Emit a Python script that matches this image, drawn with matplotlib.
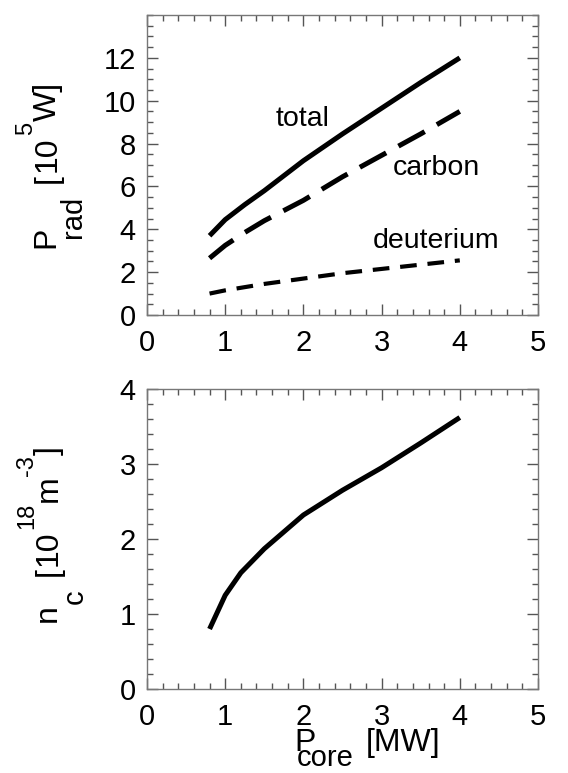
import matplotlib
matplotlib.use("Agg")
import matplotlib.pyplot as plt
from matplotlib.ticker import MultipleLocator

plt.rcParams['font.family'] = ['Liberation Sans', 'DejaVu Sans']

# ---- data ----
p_core = [0.8, 1.0, 1.25, 1.5, 2.0, 2.5, 3.0, 3.5, 4.0]
p_total = [3.7, 4.45, 5.15, 5.8, 7.2, 8.45, 9.65, 10.85, 12.0]
p_carbon = [2.65, 3.25, 3.85, 4.4, 5.35, 6.45, 7.45, 8.45, 9.5]
p_deut = [1.0, 1.15, 1.3, 1.45, 1.7, 1.95, 2.15, 2.35, 2.55]

p_core_n = [0.8, 1.0, 1.2, 1.5, 2.0, 2.5, 3.0, 3.5, 4.0]
n_c = [0.8, 1.25, 1.55, 1.87, 2.32, 2.65, 2.95, 3.28, 3.62]

x_ticks = [0, 1, 2, 3, 4, 5]
top_yticks = [0, 2, 4, 6, 8, 10, 12]
bot_yticks = [0, 1, 2, 3, 4]

W, H = 568, 773
fig = plt.figure(figsize=(W / 100, H / 100), dpi=100)

def axes_px(left, top, right, bottom):
    return fig.add_axes([left / W, 1 - bottom / H, (right - left) / W, (bottom - top) / H])

ax1 = axes_px(147, 15, 538, 315)
ax2 = axes_px(147, 389, 538, 689)

def style(ax, ymin, ymax, yticks, yminor):
    ax.set_xlim(0, 5)
    ax.set_ylim(ymin, ymax)
    ax.set_xticks(x_ticks)
    ax.set_yticks(yticks)
    ax.xaxis.set_minor_locator(MultipleLocator(0.2))
    ax.yaxis.set_minor_locator(MultipleLocator(yminor))
    ax.tick_params(which='both', direction='in', top=True, right=True,
                   color='#555555', width=1.0)
    ax.tick_params(which='major', length=8, labelsize=21)
    ax.tick_params(axis='y', which='major', pad=8)
    ax.tick_params(axis='x', which='major', pad=10)
    ax.tick_params(which='minor', length=4)
    for s in ax.spines.values():
        s.set_color('#777777')
        s.set_linewidth(1.0)

style(ax1, 0, 14, top_yticks, 0.5)
style(ax2, 0, 4, bot_yticks, 0.2)

ax1.plot(p_core, p_total, color='black', lw=3.6, solid_capstyle='butt')
ax1.plot(p_core, p_carbon, color='black', lw=3.6, dashes=(6, 2.8), dash_capstyle='butt')
ax1.plot(p_core, p_deut, color='black', lw=3.0, dashes=(4, 2.6), dash_capstyle='butt')

ax1.text(1.64, 9.15, 'total', fontsize=20.5, va='center', ha='left')
ax1.text(3.14, 6.86, 'carbon', fontsize=20.5, va='center', ha='left')
ax1.text(2.89, 3.43, 'deuterium', fontsize=20.5, va='center', ha='left')

ax2.plot(p_core_n, n_c, color='black', lw=3.6, solid_capstyle='butt')

# ---- axis labels built from pieces (large subscripts, raised superscripts) ----
MAIN, SUB, SUP = 23, 21, 17

def vpiece(s, start_y, base_x, size):
    fig.text(base_x / W, 1 - start_y / H, s, fontsize=size, rotation=90,
             rotation_mode='anchor', ha='left', va='baseline')

def hpiece(s, left_x, base_y, size):
    fig.text(left_x / W, 1 - base_y / H, s, fontsize=size, ha='left', va='baseline')

# top y label: P_rad [10^5 W]  (reads bottom to top)
vpiece('P', 248, 54, MAIN)
vpiece('rad', 238, 81, SUB)
vpiece('[', 183, 56, MAIN)
vpiece('10', 172, 56, MAIN)
vpiece('5', 135, 32, SUP)
vpiece('W]', 121, 56, MAIN)

# bottom y label: n_c [10^18 m^-3]
vpiece('n', 622, 56, MAIN)
vpiece('c', 604, 83, SUB)
vpiece('[', 576, 57, MAIN)
vpiece('10', 566, 57, MAIN)
vpiece('18', 529, 33, SUP)
vpiece('m', 502, 57, MAIN)
vpiece('-3', 476, 33, SUP)
vpiece(']', 455, 57, MAIN)

# x label: P_core [MW]
hpiece('P', 294, 751, MAIN)
hpiece('core', 297, 766, SUB)
hpiece('[MW]', 366, 751, MAIN)

fig.savefig('out.png', dpi=100)
